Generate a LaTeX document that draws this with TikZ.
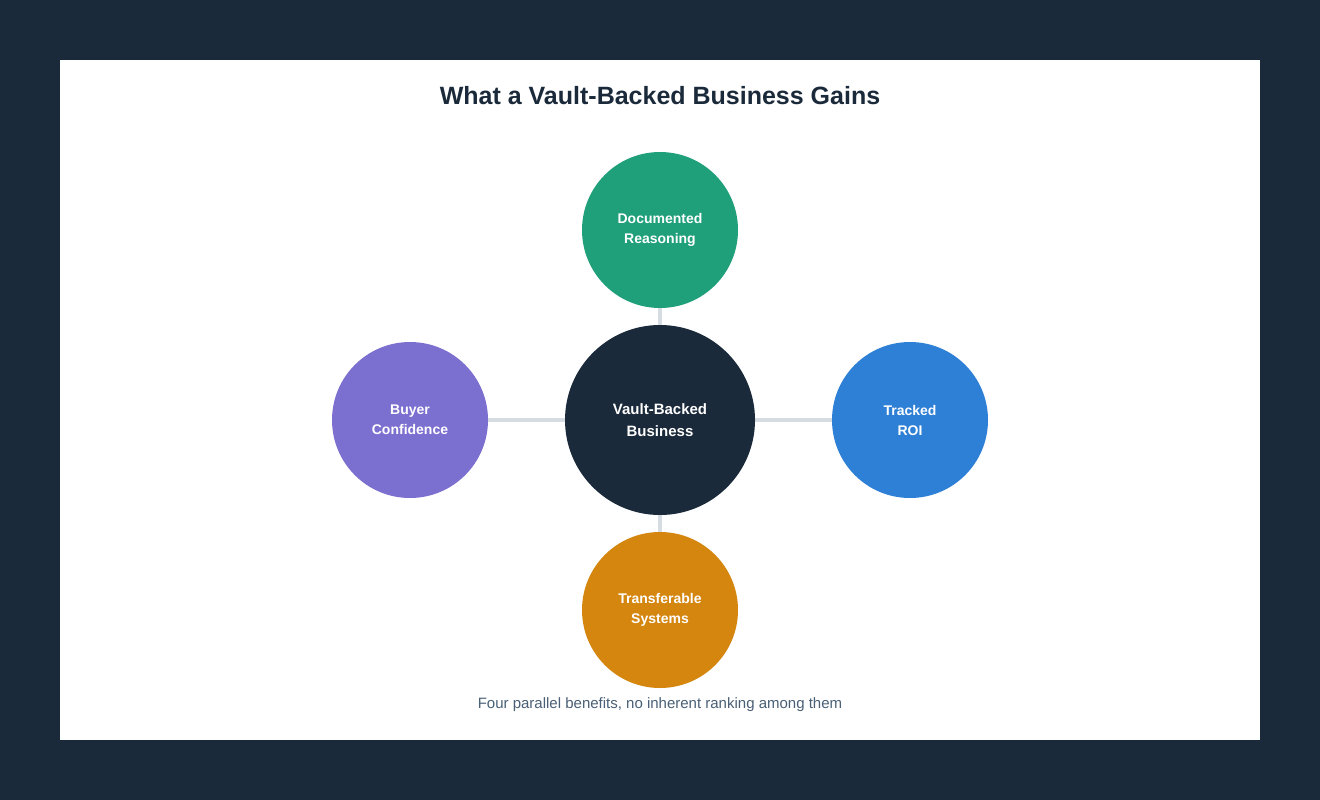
\documentclass[tikz,border=0pt]{standalone}
\usepackage{fontspec}
\setmainfont{Liberation Sans}
\usetikzlibrary{backgrounds}
\definecolor{bgdark}{HTML}{1B2A3A}
\definecolor{cgreen}{HTML}{1FA07A}
\definecolor{cblue}{HTML}{2E7FD6}
\definecolor{corange}{HTML}{D4860F}
\definecolor{cpurple}{HTML}{7B6FD0}
\definecolor{cline}{HTML}{D5DCE2}
\definecolor{ccap}{HTML}{4A6076}
\begin{document}
\begin{tikzpicture}[x=1pt,y=-1pt,
  hub/.style={circle,fill=bgdark,minimum size=190pt,inner sep=0pt,text=white,font=\bfseries\fontsize{15}{22}\selectfont,align=center},
  benefit/.style={circle,minimum size=156pt,inner sep=0pt,text=white,font=\bfseries\fontsize{14}{20}\selectfont,align=center},
  link/.style={draw=cline,line width=4pt}]
\useasboundingbox (0,0) rectangle (1320,800);
\node[font=\bfseries\fontsize{25}{28}\selectfont,text=bgdark] (title) at (660,96) {What a Vault-Backed Business Gains};
\node[hub] (hub) at (660,420) {Vault-Backed\\Business};
\node[benefit,fill=cgreen] (top) at (660,230) {Documented\\Reasoning};
\node[benefit,fill=cblue] (right) at (910,420) {Tracked\\ROI};
\node[benefit,fill=corange] (bottom) at (660,610) {Transferable\\Systems};
\node[benefit,fill=cpurple] (left) at (410,420) {Buyer\\Confidence};
\node[font=\fontsize{15}{18}\selectfont,text=ccap] (cap) at (660,705) {Four parallel benefits, no inherent ranking among them};
\begin{scope}[on background layer]
\fill[bgdark] (0,0) rectangle (1320,800);
\fill[white] (60,60) rectangle (1260,740);
\path (hub.center) edge[link] (top.center) (hub.center) edge[link] (right.center) (hub.center) edge[link] (bottom.center) (hub.center) edge[link] (left.center);
\end{scope}
\end{tikzpicture}
\end{document}
